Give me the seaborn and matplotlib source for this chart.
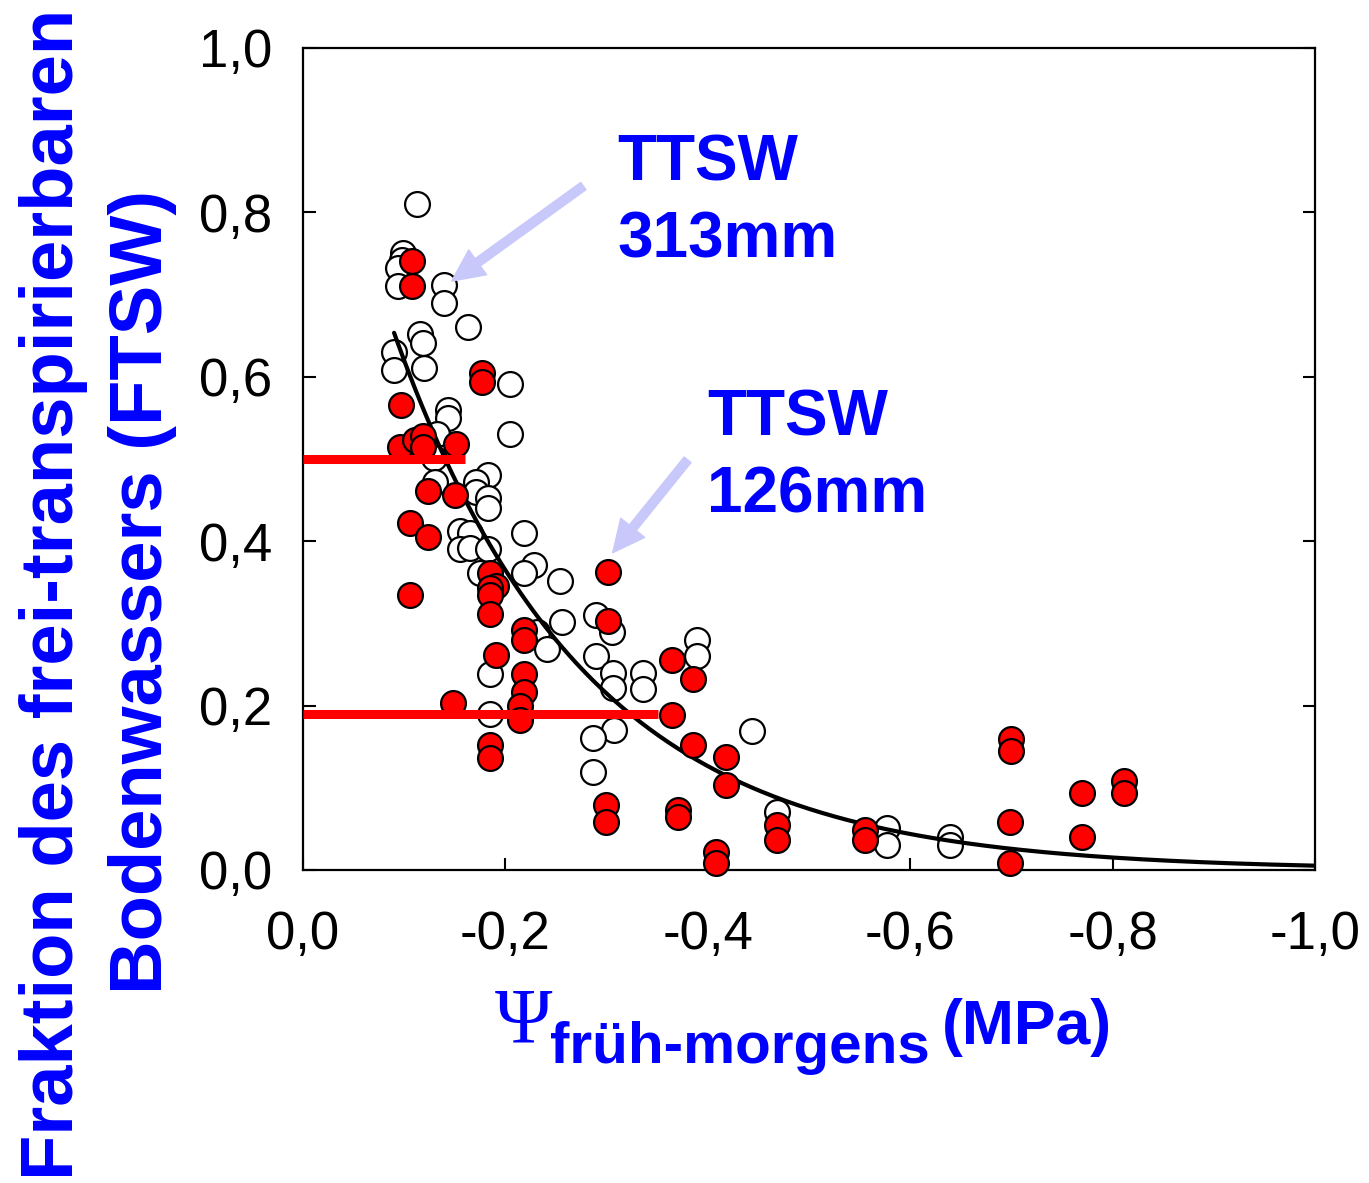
import numpy as np
import pandas as pd
import matplotlib
matplotlib.use("Agg")
import matplotlib.pyplot as plt
import seaborn as sns

# Early-morning leaf water potential (MPa) vs. fraction of transpirable soil water
# Open circles: TTSW 313 mm
psi_313 = [-0.113, -0.099, -0.0975, -0.094, -0.094, -0.139, -0.139, -0.163, -0.116, -0.119,
           -0.090, -0.090, -0.120, -0.205, -0.143, -0.143, -0.205, -0.132, -0.129, -0.130,
           -0.183, -0.171, -0.171, -0.183, -0.183, -0.155, -0.165, -0.155, -0.165, -0.183,
           -0.218, -0.228, -0.218, -0.254, -0.175, -0.256, -0.231, -0.241, -0.290, -0.305,
           -0.185, -0.185, -0.290, -0.306, -0.306, -0.336, -0.336, -0.307, -0.287, -0.287,
           -0.389, -0.389, -0.444, -0.468, -0.577, -0.577, -0.639, -0.639]
ftsw_313 = [0.810, 0.751, 0.742, 0.732, 0.710, 0.712, 0.690, 0.661, 0.652, 0.641,
            0.630, 0.608, 0.611, 0.591, 0.560, 0.550, 0.530, 0.531, 0.501, 0.472,
            0.481, 0.472, 0.460, 0.452, 0.440, 0.412, 0.410, 0.390, 0.392, 0.390,
            0.410, 0.371, 0.361, 0.351, 0.361, 0.302, 0.290, 0.269, 0.310, 0.290,
            0.239, 0.190, 0.260, 0.240, 0.221, 0.240, 0.220, 0.170, 0.160, 0.119,
            0.280, 0.260, 0.169, 0.071, 0.0506, 0.030, 0.0405, 0.030]

# Filled circles: TTSW 126 mm
psi_126 = [-0.108, -0.108, -0.177, -0.177, -0.0965, -0.096, -0.111, -0.119, -0.119, -0.151,
           -0.124, -0.150, -0.106, -0.124, -0.106, -0.185, -0.191, -0.185, -0.185, -0.185,
           -0.301, -0.301, -0.218, -0.218, -0.191, -0.218, -0.218, -0.214, -0.214, -0.1485,
           -0.185, -0.185, -0.365, -0.365, -0.385, -0.385, -0.418, -0.418, -0.299, -0.299,
           -0.371, -0.371, -0.408, -0.408, -0.468, -0.468, -0.555, -0.555, -0.700, -0.700,
           -0.699, -0.699, -0.770, -0.770, -0.811, -0.811]
ftsw_126 = [0.741, 0.710, 0.605, 0.594, 0.566, 0.515, 0.523, 0.528, 0.515, 0.518,
            0.461, 0.456, 0.422, 0.405, 0.335, 0.361, 0.345, 0.343, 0.335, 0.312,
            0.362, 0.303, 0.292, 0.280, 0.262, 0.239, 0.217, 0.199, 0.182, 0.203,
            0.152, 0.136, 0.255, 0.189, 0.232, 0.152, 0.138, 0.103, 0.079, 0.058,
            0.073, 0.064, 0.022, 0.008, 0.055, 0.0365, 0.0487, 0.0365, 0.159, 0.145,
            0.058, 0.008, 0.094, 0.040, 0.108, 0.094]

# Exponential fit FTSW = a * exp(b * psi)
fit_a = 1.053
fit_b = 5.3
fit_psi_range = [-0.09, -1.0]

# FTSW thresholds and the water potential where they end
threshold_ftsw = [0.50, 0.19]
threshold_psi = [-0.16, -0.351]

x_ticks = [0.0, -0.2, -0.4, -0.6, -0.8, -1.0]
x_tick_labels = ["0,0", "-0,2", "-0,4", "-0,6", "-0,8", "-1,0"]
y_ticks = [0.0, 0.2, 0.4, 0.6, 0.8, 1.0]
y_tick_labels = ["0,0", "0,2", "0,4", "0,6", "0,8", "1,0"]

sns.set_theme(style="white")
plt.rcParams["font.family"] = ["Liberation Sans", "DejaVu Sans"]
plt.rcParams["axes.unicode_minus"] = False

W, H = 1369, 1183
fig = plt.figure(figsize=(W / 100, H / 100), dpi=100)
ax = fig.add_axes([303 / W, 1 - 870 / H, (1315 - 303) / W, (870 - 48) / H])

blue = "#0000ff"
red = "#ff0000"
marker_kw = dict(s=320, edgecolor="black", linewidth=1.6, clip_on=False, legend=False)

df_313 = pd.DataFrame({"psi": psi_313, "ftsw": ftsw_313})
df_126 = pd.DataFrame({"psi": psi_126, "ftsw": ftsw_126})

sns.scatterplot(data=df_313, x="psi", y="ftsw", color="white", ax=ax, zorder=3, **marker_kw)

psi_fit = np.linspace(fit_psi_range[0], fit_psi_range[1], 300)
df_fit = pd.DataFrame({"psi": psi_fit, "ftsw": fit_a * np.exp(fit_b * psi_fit)})
sns.lineplot(data=df_fit, x="psi", y="ftsw", color="black", linewidth=3.0, ax=ax, zorder=4)

sns.scatterplot(data=df_126, x="psi", y="ftsw", color=red, ax=ax, zorder=5, **marker_kw)

for f, p in zip(threshold_ftsw, threshold_psi):
    ax.plot([0.0, p], [f, f], color=red, linewidth=6.5, solid_capstyle="butt", zorder=6,
            clip_on=False)

ax.set_xlim(0.0, -1.0)
ax.set_ylim(0.0, 1.0)
ax.set_xticks(x_ticks)
ax.set_xticklabels(x_tick_labels)
ax.set_yticks(y_ticks)
ax.set_yticklabels(y_tick_labels)
ax.set_xlabel("")
ax.set_ylabel("")
ax.tick_params(axis="both", which="both", direction="in", length=9, width=1.5,
               labelsize=38, colors="black", labelcolor="black",
               bottom=True, left=True, right=True, top=False)
ax.tick_params(axis="x", pad=29)
ax.tick_params(axis="y", pad=22)
for sp in ax.spines.values():
    sp.set_visible(True)
    sp.set_color("black")
    sp.set_linewidth(1.6)
ax.set_facecolor("white")

# Arrows pointing to the two data groups
arrow_kw = dict(arrowstyle="simple,head_length=1.15,head_width=1.1,tail_width=0.32",
                color="#c8c8fa", mutation_scale=20, shrinkA=0, shrinkB=0)
ax.annotate("", xy=(-0.147, 0.7165), xytext=(-0.277, 0.832),
            arrowprops=arrow_kw, zorder=7)
ax.annotate("", xy=(-0.306, 0.386), xytext=(-0.380, 0.499),
            arrowprops=arrow_kw, zorder=7)

txt_kw = dict(color=blue, fontsize=46, fontweight="bold", ha="left", va="baseline", zorder=8)
ax.text(-0.311, 0.839, "TTSW", **txt_kw)
ax.text(-0.311, 0.745, "313mm", **txt_kw)
ax.text(-0.399, 0.529, "TTSW", **txt_kw)
ax.text(-0.399, 0.4355, "126mm", **txt_kw)

# Axis titles
ylab_kw = dict(color=blue, fontsize=53.5, fontweight="bold", rotation=90,
               rotation_mode="anchor", ha="center", va="baseline")
fig.text(73 / W, 1 - 594 / H, "Fraktion des frei-transpirierbaren", **ylab_kw)
fig.text(162 / W, 1 - 592 / H, "Bodenwassers (FTSW)", **ylab_kw)

fig.text(495 / W, 1 - 1041 / H, "Ψ", color=blue, fontsize=56, ha="left", va="baseline",
         family=["Liberation Serif", "DejaVu Serif"])
fig.text(550 / W, 1 - 1063 / H, "früh-morgens", color=blue, fontsize=42,
         fontweight="bold", ha="left", va="baseline")
fig.text(942 / W, 1 - 1044 / H, "(MPa)", color=blue, fontsize=45,
         fontweight="bold", ha="left", va="baseline")

fig.savefig("out.png", dpi=100, facecolor="white")
